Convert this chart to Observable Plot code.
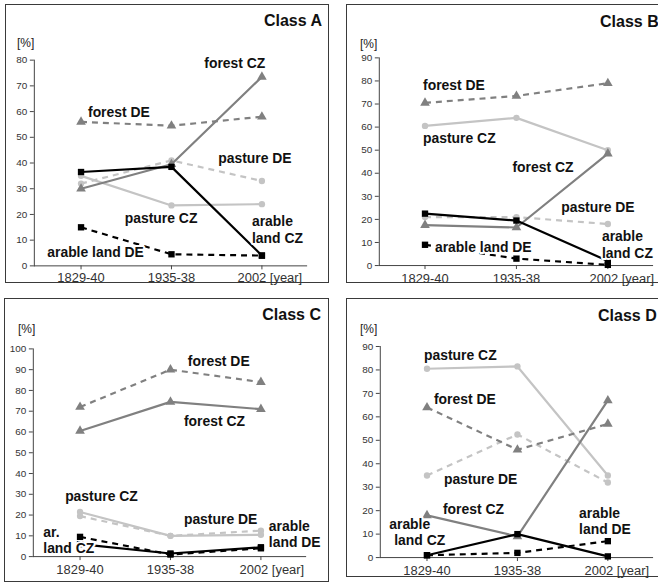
<!DOCTYPE html>
<html>
<head>
<meta charset="utf-8">
<script src="https://cdn.jsdelivr.net/npm/d3@7"></script>
<script src="https://cdn.jsdelivr.net/npm/@observablehq/plot@0.6"></script>
<style>
  html, body { margin: 0; padding: 0; background: #fff; }
  body { width: 658px; height: 583px; overflow: hidden; position: relative; font-family: "Liberation Sans", Arial, sans-serif; }
  .panel { position: absolute; border: 1px solid #3a3a3a; box-sizing: border-box; background: #fff; }
  .panel svg { position: absolute; left: 0; top: 0; overflow: visible; }
  .ptitle { position: absolute; font-weight: bold; font-size: 16px; color: #111; white-space: nowrap; }
  .punit { position: absolute; font-size: 12px; color: #222; }
</style>
</head>
<body>
<script>
// ---- categories ----
const periods = ["1829-40", "1935-38", "2002"];

// ---- Class A values [%] ----
const A_forestCZ  = [30, 39.5, 73.5];
const A_forestDE  = [56, 54.5, 58];
const A_pastureCZ = [35, 23.5, 24];
const A_pastureDE = [32, 41, 33];
const A_arableCZ  = [36.5, 38.5, 4];
const A_arableDE  = [15, 4.5, 4];

// ---- Class B values [%] ----
const B_forestCZ  = [17.5, 16.5, 48.5];
const B_forestDE  = [70.5, 73.5, 79];
const B_pastureCZ = [60.5, 64, 50];
const B_pastureDE = [21, 21, 18];
const B_arableCZ  = [22.5, 19.5, 2];
const B_arableDE  = [9, 3, 0.3];

// ---- Class C values [%] ----
const C_forestCZ  = [60.5, 74.5, 71];
const C_forestDE  = [72, 90, 84];
const C_pastureCZ = [21.5, 10, 10.5];
const C_pastureDE = [19.5, 10, 12.5];
const C_arableCZ  = [6, 1.5, 4.5];
const C_arableDE  = [9.5, 1, 4];

// ---- Class D values [%] ----
const D_forestCZ  = [18, 9, 67];
const D_forestDE  = [64, 46, 57];
const D_pastureCZ = [80.5, 81.5, 35];
const D_pastureDE = [35, 52.5, 32];
const D_arableCZ  = [1, 10, 0.5];
const D_arableDE  = [1, 2, 7];

// ---- series styles ----
const seriesStyle = {
  pastureDE: {stroke: "#c4c4c4", dash: "6,5", symbol: "circle"},
  pastureCZ: {stroke: "#c4c4c4", dash: null, symbol: "circle"},
  forestDE:  {stroke: "#808080", dash: "6,5", symbol: "triangle"},
  forestCZ:  {stroke: "#808080", dash: null, symbol: "triangle"},
  arableDE:  {stroke: "#000000", dash: "6,5", symbol: "square"},
  arableCZ:  {stroke: "#000000", dash: null, symbol: "square"}
};

const panels = [
  {name: "Class A", left: 5, top: 4, width: 324, height: 279, yMax: 80,
   m: [55, 21, 17, 28], yearDx: 8, tickPad: 7,
   titlePos: {right: 6, top: 7}, unitPos: {left: 11, top: 31},
   series: {pastureDE: A_pastureDE, pastureCZ: A_pastureCZ, forestDE: A_forestDE, forestCZ: A_forestCZ, arableDE: A_arableDE, arableCZ: A_arableCZ},
   labels: [
     {t: "forest CZ", p: "1935-38", v: 78.5, dx: 33},
     {t: "forest DE", p: "1829-40", v: 59.5, dx: 7},
     {t: "pasture DE", p: "1935-38", v: 41.7, dx: 47},
     {t: "pasture CZ", p: "1829-40", v: 18.5, dx: 44},
     {t: "arable", p: "2002", v: 17.2, dx: -10},
     {t: "land CZ", p: "2002", v: 10.6, dx: -10},
     {t: "arable land DE", p: "1829-40", v: 5, dx: -34}
   ]},
  {name: "Class B", left: 346, top: 4, width: 320, height: 279, yMax: 90,
   m: [52.7, 12, 17.3, 32], yearDx: 14, tickPad: 8,
   titlePos: {left: 253, top: 8}, unitPos: {left: 13, top: 32},
   series: {pastureDE: B_pastureDE, pastureCZ: B_pastureCZ, forestDE: B_forestDE, forestCZ: B_forestCZ, arableDE: B_arableDE, arableCZ: B_arableCZ},
   labels: [
     {t: "forest DE", p: "1829-40", v: 77.8, dx: -2},
     {t: "pasture CZ", p: "1829-40", v: 55, dx: -2},
     {t: "forest CZ", p: "1935-38", v: 42.5, dx: -4},
     {t: "pasture DE", p: "1935-38", v: 25.3, dx: 45},
     {t: "arable land DE", p: "1829-40", v: 8, dx: 10},
     {t: "arable", p: "2002", v: 12.6, dx: -6},
     {t: "land CZ", p: "2002", v: 5, dx: -6}
   ]},
  {name: "Class C", left: 4, top: 298, width: 325, height: 284, yMax: 100,
   m: [49.7, 22, 25.3, 28], yearDx: 11, tickPad: 8,
   titlePos: {right: 7, top: 7}, unitPos: {left: 13, top: 23},
   series: {pastureDE: C_pastureDE, pastureCZ: C_pastureCZ, forestDE: C_forestDE, forestCZ: C_forestCZ, arableDE: C_arableDE, arableCZ: C_arableCZ},
   labels: [
     {t: "forest DE", p: "1935-38", v: 93.7, dx: 17.5},
     {t: "forest CZ", p: "1935-38", v: 65, dx: 13.5},
     {t: "pasture CZ", p: "1829-40", v: 29, dx: -15},
     {t: "pasture DE", p: "1935-38", v: 18, dx: 13.5},
     {t: "arable", p: "2002", v: 14.6, dx: 8},
     {t: "land DE", p: "2002", v: 6.6, dx: 8},
     {t: "ar.", p: "1829-40", v: 11.4, dx: -37},
     {t: "land CZ", p: "1829-40", v: 3.9, dx: -37}
   ]},
  {name: "Class D", left: 346, top: 298, width: 320, height: 279, yMax: 90,
   m: [47.3, 12, 19.3, 33], yearDx: 9, tickPad: 8,
   titlePos: {left: 251, top: 8}, unitPos: {left: 13, top: 23},
   series: {pastureDE: D_pastureDE, pastureCZ: D_pastureCZ, forestDE: D_forestDE, forestCZ: D_forestCZ, arableDE: D_arableDE, arableCZ: D_arableCZ},
   labels: [
     {t: "pasture CZ", p: "1829-40", v: 86.3, dx: -3},
     {t: "forest DE", p: "1829-40", v: 67.2, dx: 7},
     {t: "pasture DE", p: "1829-40", v: 33.3, dx: 17},
     {t: "forest CZ", p: "1829-40", v: 20.6, dx: 16},
     {t: "arable", p: "1829-40", v: 14.0, dx: -38},
     {t: "land CZ", p: "1829-40", v: 7.2, dx: -33},
     {t: "arable", p: "2002", v: 18.8, dx: -29},
     {t: "land DE", p: "2002", v: 12.0, dx: -29}
   ]}
];

for (const P of panels) {
  const div = document.createElement("div");
  div.className = "panel";
  Object.assign(div.style, {left: P.left + "px", top: P.top + "px", width: P.width + "px", height: P.height + "px"});
  document.body.appendChild(div);

  const rows = [];
  for (const [key, vals] of Object.entries(P.series)) {
    vals.forEach((v, i) => rows.push({series: key, period: periods[i], value: v}));
  }
  const yTicks = d3.range(0, P.yMax + 1, 10);

  const seriesMarks = [];
  for (const key of Object.keys(P.series)) {
    const st = seriesStyle[key];
    const data = rows.filter(r => r.series === key);
    seriesMarks.push(Plot.line(data, {x: "period", y: "value", stroke: st.stroke, strokeWidth: 2.2,
      strokeDasharray: st.dash || undefined, strokeLinecap: "butt"}));
    seriesMarks.push(Plot.dot(data, {x: "period", y: "value", symbol: st.symbol, fill: st.stroke, stroke: "none",
      r: st.symbol === "circle" ? 3.2 : 3.6}));
  }

  const labelMarks = P.labels.map(lab =>
    Plot.text([lab], {x: "p", y: "v", text: "t", dx: lab.dx, textAnchor: "start", fontSize: 14, fontWeight: "bold",
      fill: "#111", stroke: "white", strokeWidth: 4, paintOrder: "stroke"}));

  const plot = Plot.plot({
    width: P.width, height: P.height,
    marginTop: P.m[0], marginRight: P.m[1], marginBottom: P.m[2], marginLeft: P.m[3],
    style: {fontFamily: "'Liberation Sans', Arial, sans-serif", background: "transparent", color: "#222", overflow: "visible"},
    x: {type: "point", domain: periods, padding: 0.5},
    y: {domain: [0, P.yMax]},
    marks: [
      Plot.axisY({ticks: yTicks, tickSize: 4, tickPadding: 3, fontSize: 10, label: null, stroke: "#444", fill: "#333"}),
      Plot.frame({anchor: "left", stroke: "#444"}),
      Plot.ruleY([0], {stroke: "#444"}),
      Plot.axisX({tickSize: 4, tickFormat: () => "", label: null, stroke: "#444"}),
      Plot.axisX({ticks: periods.slice(0, 2), tickSize: 0, tickPadding: P.tickPad, fontSize: 13, label: null, fill: "#333"}),
      Plot.axisX({ticks: periods.slice(2), tickSize: 0, tickPadding: P.tickPad, fontSize: 13, label: null, fill: "#333",
        dx: P.yearDx, tickFormat: d => d + " [year]"}),
      ...seriesMarks,
      ...labelMarks
    ]
  });
  div.appendChild(plot);

  const title = document.createElement("div");
  title.className = "ptitle";
  title.textContent = P.name;
  for (const [k, v] of Object.entries(P.titlePos)) title.style[k] = v + "px";
  div.appendChild(title);

  const unit = document.createElement("div");
  unit.className = "punit";
  unit.textContent = "[%]";
  for (const [k, v] of Object.entries(P.unitPos)) unit.style[k] = v + "px";
  div.appendChild(unit);
}
</script>
</body>
</html>
